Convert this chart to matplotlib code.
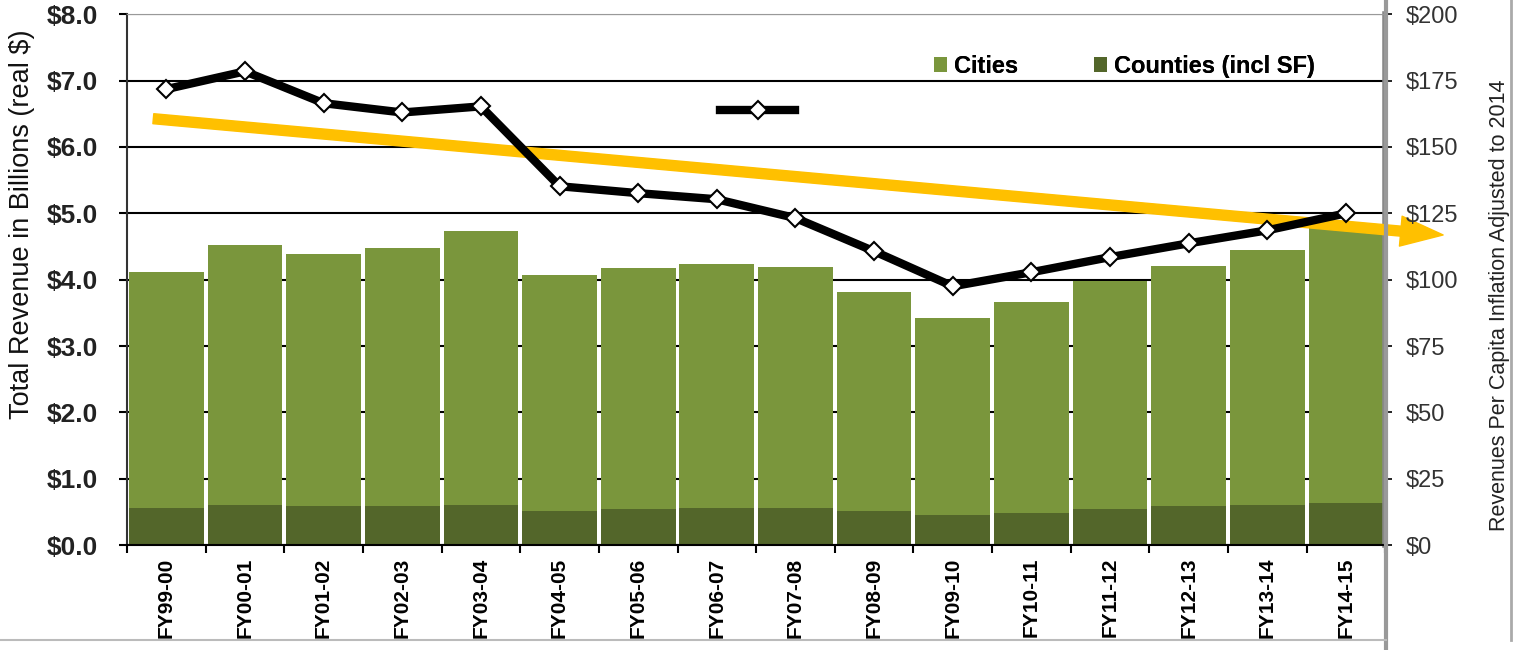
import matplotlib
matplotlib.use('Agg')
import matplotlib.pyplot as plt
from matplotlib.lines import Line2D
from matplotlib.patches import FancyArrowPatch
import numpy as np

plt.rcParams['font.family'] = ['Liberation Sans', 'DejaVu Sans']

# data
years = ['FY99-00', 'FY00-01', 'FY01-02', 'FY02-03', 'FY03-04', 'FY04-05',
         'FY05-06', 'FY06-07', 'FY07-08', 'FY08-09', 'FY09-10', 'FY10-11',
         'FY11-12', 'FY12-13', 'FY13-14', 'FY14-15']
total_rev = [4.11, 4.53, 4.38, 4.47, 4.73, 4.07, 4.17, 4.23, 4.19, 3.81,
             3.42, 3.66, 3.98, 4.20, 4.44, 4.80]
counties = [0.56, 0.60, 0.59, 0.59, 0.60, 0.51, 0.54, 0.56, 0.56, 0.51,
            0.45, 0.48, 0.54, 0.59, 0.60, 0.64]
cities = [t - c for t, c in zip(total_rev, counties)]
per_capita = [171.8, 178.5, 166.5, 163.0, 165.3, 135.2, 132.6, 130.3, 123.2,
              110.7, 97.5, 102.8, 108.5, 113.7, 118.6, 125.0]
# trend arrow (category index, left-axis value)
trend_start = (-0.2, 6.43)
trend_end = (16.27, 4.67)

left_ticks = [0, 1, 2, 3, 4, 5, 6, 7, 8]
left_labels = ['$%.1f' % v for v in left_ticks]
right_ticks = [0, 25, 50, 75, 100, 125, 150, 175, 200]
right_labels = ['$%d' % v for v in right_ticks]

c_cities = '#7a963c'
c_counties = '#53662a'

fig = plt.figure(figsize=(15.19, 6.5), dpi=100)
ax = fig.add_axes([0.0836, 0.1615, 0.912 - 0.0836, 0.978 - 0.1615])

x = np.arange(len(years))
ax.bar(x, counties, width=0.95, color=c_counties, label='Counties (incl SF)', zorder=2)
ax.bar(x, cities, width=0.95, bottom=counties, color=c_cities, label='Cities', zorder=2)

ax.set_xlim(-0.5, len(years) - 0.5)
ax.set_ylim(0, 8)
ax.set_yticks(left_ticks)
ax.set_yticklabels(left_labels, fontsize=19, fontweight='bold', color='#222222')
ax.set_xticks(x)
ax.set_xticklabels(years, rotation=90, fontsize=15, fontweight='bold')
ax.tick_params(axis='x', length=0, pad=9)
ax.set_xticks(np.arange(-0.5, len(years), 1), minor=True)
ax.tick_params(axis='x', which='minor', length=6, width=1.5, direction='out')
ax.tick_params(axis='y', length=6, width=1.5, direction='out', pad=15)
ax.yaxis.grid(True, color='black', linewidth=1.5, zorder=1)
ax.set_axisbelow(True)
ax.set_ylabel('Total Revenue in Billions (real $)', fontsize=19.5, color='#111111')
ax.yaxis.set_label_coords(-0.073, 0.605)

ax.spines['top'].set_color('#999999')
ax.spines['right'].set_color('#888888')
ax.spines['right'].set_linewidth(4)
ax.spines['left'].set_linewidth(1.5)
ax.spines['left'].set_color('#333333')
ax.spines['bottom'].set_linewidth(1.5)

ax2 = ax.twinx()
ax2.set_ylim(0, 200)
ax2.set_yticks(right_ticks)
ax2.set_yticklabels(right_labels, fontsize=17, color='#333333')
ax2.tick_params(axis='y', length=5, width=1.2, direction='out', pad=10)
ax2.set_ylabel('Revenues Per Capita Inflation Adjusted to 2014', fontsize=15.5,
               color='#222222')
ax2.yaxis.set_label_coords(1.0825, 0.452)
for s in ['top', 'left', 'bottom', 'right']:
    ax2.spines[s].set_visible(False)

line, = ax2.plot(x, per_capita, color='black', linewidth=6, marker='D',
                 markersize=9, markerfacecolor='white', markeredgecolor='black',
                 markeredgewidth=1.5, zorder=4)

# trend arrow
arrow = FancyArrowPatch(trend_start, trend_end, transform=ax.transData,
                        arrowstyle='simple,head_length=1.7,head_width=1.2,tail_width=0.4',
                        mutation_scale=18, color='#ffc000', clip_on=False, zorder=5)
ax.add_patch(arrow)

# legends
handles, labels = ax.get_legend_handles_labels()
leg = ax.legend(handles[::-1], labels[::-1], loc='center right',
                bbox_to_anchor=(0.944, 0.902), ncol=2, frameon=False,
                prop={'size': 17, 'weight': 'bold'}, handlelength=0.55,
                handleheight=0.55, handletextpad=0.3, columnspacing=3.2,
                borderpad=0, borderaxespad=0)
ax.add_artist(leg)
ax2.legend([line], [''], loc='center left', bbox_to_anchor=(0.471, 0.815),
           frameon=False, handlelength=3.9, handletextpad=0, borderpad=0,
           borderaxespad=0, prop={'size': 14})

# slide frame lines
fig.add_artist(Line2D([0.9125, 0.9125], [0.0, 1.0], color='#999999', linewidth=3))
fig.add_artist(Line2D([0.995, 0.995], [0.015, 1.0], color='#aaaaaa', linewidth=2))
fig.add_artist(Line2D([0.0, 0.9125], [0.015, 0.015], color='#bbbbbb', linewidth=1.5))

fig.savefig('out.png', dpi=100)
